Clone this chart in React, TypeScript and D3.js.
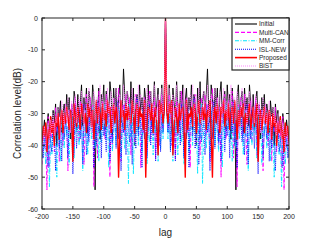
import React, { useRef, useEffect } from 'react'
import * as d3 from 'd3'

const seriesNames = ['Initial', 'Multi-CAN', 'MM-Corr', 'ISL-NEW', 'Proposed', 'BiST']
const xTicks = [-200, -150, -100, -50, 0, 50, 100, 150, 200]
const yTicks = [0, -10, -20, -30, -40, -50, -60]
const lagStep = 2

// correlation level (dB) at lag 0,2,4,...,200 -- the curves are symmetric in lag
const initial = [0,
  -24, -33, -21, -29, -36, -22, -27, -31, -20, -28,
  -34, -23, -30, -21, -38, -26, -22, -33, -25, -29,
  -21, -35, -24, -27, -40, -22, -30, -20, -34, -26,
  -23, -31, -24, -16, -29, -33, -21, -25, -36, -22,
  -29, -22, -37, -24, -20, -31, -26, -23, -35, -21,
  -28, -24, -38, -22, -30, -27, -54, -25, -21, -32,
  -26, -23, -36, -22, -29, -25, -34, -21, -27, -31,
  -24, -35, -26, -23, -32, -27, -38, -25, -29, -24,
  -33, -27, -30, -36, -26, -31, -28, -40, -27, -33,
  -29, -35, -31, -37, -30, -34, -39, -32, -36, -40]
const multiCan = [0,
  -27, -35, -24, -31, -40, -26, -29, -44, -25, -33,
  -28, -38, -23, -30, -42, -27, -25, -36, -31, -47,
  -26, -33, -29, -24, -39, -30, -27, -43, -25, -32,
  -29, -24, -37, -27, -31, -45, -26, -22, -34, -28,
  -30, -25, -41, -28, -50, -27, -33, -24, -38, -29,
  -26, -35, -30, -23, -44, -28, -32, -53, -27, -31,
  -25, -37, -29, -24, -34, -46, -27, -30, -26, -39,
  -28, -32, -25, -43, -30, -27, -36, -29, -48, -31,
  -27, -34, -40, -29, -33, -45, -30, -36, -28, -42,
  -32, -38, -35, -47, -31, -54, -37, -41, -36, -46]
const mmCorr = [0,
  -30, -38, -27, -41, -33, -45, -29, -36, -31, -43,
  -28, -35, -39, -30, -46, -32, -37, -29, -42, -34,
  -31, -40, -28, -36, -33, -49, -30, -38, -27, -52,
  -33, -29, -41, -35, -31, -44, -28, -37, -32, -40,
  -29, -36, -42, -31, -34, -47, -30, -38, -27, -35,
  -32, -39, -29, -45, -33, -30, -41, -36, -28, -38,
  -31, -34, -43, -29, -37, -32, -48, -30, -35, -40,
  -28, -36, -33, -44, -31, -38, -29, -46, -34, -37,
  -30, -41, -35, -32, -45, -38, -33, -50, -36, -39,
  -34, -43, -37, -53, -35, -40, -46, -38, -42, -44]
const islNew = [0,
  -28, -36, -31, -42, -26, -38, -33, -45, -29, -37,
  -32, -40, -27, -35, -44, -30, -38, -28, -47, -33,
  -29, -37, -25, -41, -34, -31, -46, -28, -39, -35,
  -30, -43, -27, -36, -32, -48, -29, -38, -26, -41,
  -33, -28, -39, -35, -45, -30, -27, -42, -34, -37,
  -31, -44, -29, -36, -26, -40, -33, -47, -30, -35,
  -28, -39, -34, -43, -30, -27, -46, -32, -38, -29,
  -33, -41, -28, -37, -49, -31, -35, -29, -44, -36,
  -32, -38, -30, -45, -34, -41, -31, -37, -48, -35,
  -33, -42, -39, -36, -47, -38, -41, -35, -44, -40]
const proposed = [0,
  -29, -33, -27, -30, -26, -43, -34, -28, -31, -36,
  -27, -32, -29, -28, -33, -50, -26, -35, -30, -31,
  -28, -34, -27, -30, -36, -29, -26, -33, -31, -28,
  -32, -27, -35, -29, -31, -26, -37, -50, -30, -28,
  -33, -27, -31, -36, -28, -30, -26, -34, -29, -32,
  -27, -35, -30, -28, -33, -26, -31, -38, -29, -34,
  -28, -31, -27, -36, -30, -33, -29, -27, -35, -31,
  -28, -34, -30, -27, -45, -32, -29, -35, -31, -28,
  -33, -30, -36, -29, -32, -38, -30, -34, -31, -40,
  -33, -36, -31, -38, -35, -42, -33, -37, -34, -39]
const bist = [0,
  -25, -30, -22, -34, -27, -24, -32, -28, -21, -31,
  -26, -23, -33, -29, -22, -36, -27, -25, -30, -24,
  -28, -21, -34, -26, -24, -31, -22, -29, -35, -25,
  -23, -30, -27, -21, -33, -26, -24, -32, -28, -22,
  -29, -25, -35, -23, -27, -31, -22, -30, -26, -33,
  -24, -28, -21, -34, -27, -25, -32, -23, -29, -36,
  -26, -22, -31, -28, -24, -35, -27, -23, -30, -25,
  -29, -33, -24, -27, -31, -26, -36, -28, -25, -32,
  -27, -34, -29, -26, -38, -30, -28, -33, -31, -37,
  -30, -35, -32, -39, -33, -36, -41, -34, -38, -42]

const seriesValues = [initial, multiCan, mmCorr, islNew, proposed, bist]
const styles = [
  { color: '#000000', dash: null, width: 0.9 },
  { color: '#ff00ff', dash: '4,2', width: 0.9 },
  { color: '#00e5ff', dash: '4,1.5,1,1.5', width: 0.9 },
  { color: '#0000ff', dash: '1,1', width: 0.9 },
  { color: '#ff0000', dash: null, width: 1.4 },
  { color: '#ff88ff', dash: '1,1', width: 0.9 },
]

export default function App() {
  const svgRef = useRef<SVGSVGElement>(null)

  useEffect(() => {
    const width = 321
    const height = 241
    const m = { left: 42, right: 32, top: 18, bottom: 32 }
    const svg = d3.select(svgRef.current)
    svg.selectAll('*').remove()
    svg.attr('width', width).attr('height', height)

    const x = d3.scaleLinear().domain([-200, 200]).range([m.left, width - m.right])
    const y = d3.scaleLinear().domain([-60, 0]).range([height - m.bottom, m.top])
    const axisColor = '#262626'
    const font = 'Liberation Sans, Arial, sans-serif'

    svg.append('rect').attr('width', width).attr('height', height).attr('fill', '#fff')

    svg.append('clipPath').attr('id', 'plotclip')
      .append('rect')
      .attr('x', m.left).attr('y', m.top)
      .attr('width', width - m.left - m.right).attr('height', height - m.top - m.bottom)

    const line = d3.line<[number, number]>()
      .x(d => x(d[0]))
      .y(d => y(d[1]))

    const plot = svg.append('g').attr('clip-path', 'url(#plotclip)')
    seriesValues.forEach((vals, k) => {
      const pts: [number, number][] = []
      vals.forEach((v, i) => {
        pts.push([i * lagStep, v])
        if (i > 0) pts.push([-i * lagStep, v])
      })
      pts.sort((a, b) => a[0] - b[0])
      const st = styles[k]
      plot.append('path')
        .datum(pts)
        .attr('d', line)
        .attr('fill', 'none')
        .attr('stroke', st.color)
        .attr('stroke-width', st.width)
        .attr('stroke-dasharray', st.dash)
        .attr('stroke-linejoin', 'round')
    })

    // axes box with inward ticks
    const tl = 3
    const axes = svg.append('g').attr('stroke', axisColor).attr('stroke-width', 1)
    axes.append('rect')
      .attr('x', m.left).attr('y', m.top)
      .attr('width', width - m.left - m.right).attr('height', height - m.top - m.bottom)
      .attr('fill', 'none')
    xTicks.forEach(t => {
      axes.append('line').attr('x1', x(t)).attr('x2', x(t)).attr('y1', y(-60)).attr('y2', y(-60) - tl)
      axes.append('line').attr('x1', x(t)).attr('x2', x(t)).attr('y1', y(0)).attr('y2', y(0) + tl)
    })
    yTicks.forEach(t => {
      axes.append('line').attr('x1', x(-200)).attr('x2', x(-200) + tl).attr('y1', y(t)).attr('y2', y(t))
      axes.append('line').attr('x1', x(200)).attr('x2', x(200) - tl).attr('y1', y(t)).attr('y2', y(t))
    })

    svg.append('g').selectAll('text').data(xTicks).join('text')
      .attr('x', d => x(d)).attr('y', y(-60) + 10)
      .attr('text-anchor', 'middle')
      .attr('font-family', font).attr('font-size', 7).attr('fill', axisColor)
      .text(d => d)
    svg.append('g').selectAll('text').data(yTicks).join('text')
      .attr('x', x(-200) - 4).attr('y', d => y(d) + 2.5)
      .attr('text-anchor', 'end')
      .attr('font-family', font).attr('font-size', 7).attr('fill', axisColor)
      .text(d => d)

    svg.append('text')
      .attr('x', (x(-200) + x(200)) / 2).attr('y', 236)
      .attr('text-anchor', 'middle')
      .attr('font-family', font).attr('font-size', 10).attr('fill', axisColor)
      .text('lag')
    svg.append('text')
      .attr('transform', `translate(21,${(y(0) + y(-60)) / 2}) rotate(-90)`)
      .attr('text-anchor', 'middle')
      .attr('font-family', font).attr('font-size', 10).attr('fill', axisColor)
      .text('Correlation level(dB)')

    // legend
    const lg = svg.append('g')
    const lx = 232
    const ly = 18
    lg.append('rect').attr('x', lx).attr('y', ly).attr('width', 57).attr('height', 52)
      .attr('fill', '#fff').attr('stroke', axisColor).attr('stroke-width', 1.2)
    seriesNames.forEach((name, k) => {
      const st = styles[k]
      const yy = ly + 6 + k * 8.4
      lg.append('line').attr('x1', lx + 3).attr('x2', lx + 25).attr('y1', yy).attr('y2', yy)
        .attr('stroke', st.color).attr('stroke-width', st.width + 0.2)
        .attr('stroke-dasharray', st.dash)
      lg.append('text').attr('x', lx + 27).attr('y', yy + 2.3)
        .attr('font-family', font).attr('font-size', 6.5).attr('fill', axisColor)
        .text(name)
    })
  }, [])

  return (
    <div style={{ position: 'fixed', left: 0, top: 0 }}>
      <svg ref={svgRef}></svg>
    </div>
  )
}
